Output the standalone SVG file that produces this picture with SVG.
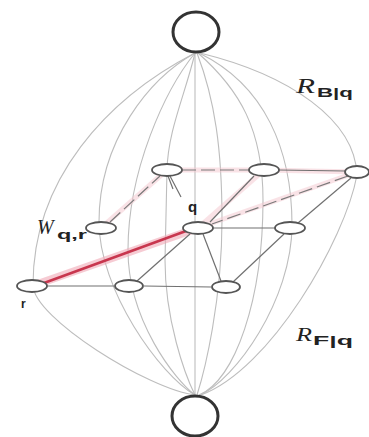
<svg xmlns="http://www.w3.org/2000/svg" width="369" height="437" viewBox="0 0 369 437">
<style>
.bg{fill:#ffffff}
.curve{fill:none;stroke:#bdbdbd;stroke-width:1.1}
.big{fill:#ffffff;stroke:#333333;stroke-width:3}
.node{fill:#ffffff;stroke:#555555;stroke-width:1.8}
.edge{fill:none;stroke:#707070;stroke-width:1.2}
.dash{fill:none;stroke:#7a7a7a;stroke-width:1.2;stroke-dasharray:14 5}
.glow{fill:none;stroke:#f3c6ce;stroke-width:5;stroke-linecap:round;opacity:0.5}
.wglow{fill:none;stroke:#f0a8b6;stroke-width:8;stroke-linecap:round;opacity:0.6}
.w{fill:none;stroke:#c8364e;stroke-width:2.6;stroke-linecap:round}
.ser{font-family:"Liberation Serif",serif;font-style:italic;fill:#222}
.sub{font-family:"Liberation Sans",sans-serif;font-weight:bold;fill:#222}
</style>
<rect class="bg" x="0" y="0" width="369" height="437"/>
<g id="connectors">
  <path class="curve" d="M195,53 C106,99 33,180 33,285 C33,318 150,390 195,395"/>
  <path class="curve" d="M195,53 C150,78 99,140 99,222 C99,290 160,375 195,395"/>
  <path class="curve" d="M195,53 C165,90 128,170 128,250 C128,320 175,380 195,395"/>
  <path class="curve" d="M195,53 C185,95 168,130 167,170 L165,260 C165,320 185,375 195,395"/>
  <path class="curve" d="M195,53 L195,395"/>
  <path class="curve" d="M197,53 C215,100 222,150 222,220 C222,300 205,370 197,395"/>
  <path class="curve" d="M198,53 C240,90 263,130 263,200 C263,300 235,380 199,395"/>
  <path class="curve" d="M199,53 C265,85 292,150 292,225 C292,300 235,380 200,395"/>
  <path class="curve" d="M200,53 C290,75 355,120 357,175 C345,240 270,370 201,395"/>
  <path class="glow" d="M167,170 L264,170 L357,172 M357,172 L198,228 M264,170 L198,228 M167,170 L101,228"/>
  <path class="wglow" d="M32,286 L198,228"/>
  <path class="dash" d="M182,170 L249,170"/>
  <path class="edge" d="M279,170 L345,171"/>
  <path class="dash" d="M110,222 L160,176"/>
  <path class="edge" d="M168,176 L173,189 M170,176 L181,197"/>
  <path class="edge" d="M254,176 L210,222"/>
  <path class="dash" d="M348,176 L212,224"/>
  <path class="edge" d="M351,178 L298,223"/>
  <path class="edge" d="M213,228 L275,228"/>
  <path class="w" d="M44,283 L186,231"/>
  <path class="edge" d="M47,286 L114,286"/>
  <path class="edge" d="M144,286 L211,287"/>
  <path class="edge" d="M190,234 L137,281"/>
  <path class="edge" d="M203,234 L221,281"/>
  <path class="edge" d="M284,234 L233,282"/>
</g>
<g id="node-top"><ellipse class="big" cx="196" cy="32" rx="23" ry="20"/></g>
<g id="node-bottom"><ellipse class="big" cx="195" cy="416" rx="23" ry="20"/></g>
<g id="node-a"><ellipse class="node" cx="167" cy="170" rx="15" ry="6"/></g>
<g id="node-b"><ellipse class="node" cx="264" cy="170" rx="15" ry="6"/></g>
<g id="node-c"><ellipse class="node" cx="357" cy="172" rx="12" ry="6"/></g>
<g id="node-d"><ellipse class="node" cx="101" cy="228" rx="15" ry="6"/></g>
<g id="node-q"><ellipse class="node" cx="198" cy="228" rx="15" ry="6"/><text class="sub" x="188" y="212" font-size="15">q</text></g>
<g id="node-e"><ellipse class="node" cx="290" cy="228" rx="15" ry="6"/></g>
<g id="node-r"><ellipse class="node" cx="32" cy="286" rx="15" ry="6"/><text class="sub" x="21" y="308" font-size="12">r</text></g>
<g id="node-f"><ellipse class="node" cx="129" cy="286" rx="14" ry="6"/></g>
<g id="node-g"><ellipse class="node" cx="226" cy="287" rx="14" ry="6"/></g>
<g id="labels">
  <text class="ser" x="296" y="93" font-size="22" textLength="19" lengthAdjust="spacingAndGlyphs">R</text>
  <text class="sub" x="317" y="97" font-size="12" textLength="36" lengthAdjust="spacingAndGlyphs">B|q</text>
  <text class="ser" x="296" y="341" font-size="18" textLength="16" lengthAdjust="spacingAndGlyphs">R</text>
  <text class="sub" x="313" y="345" font-size="12" textLength="40" lengthAdjust="spacingAndGlyphs">F|q</text>
  <text class="ser" x="37" y="234" font-size="20">W</text>
  <text class="sub" x="57" y="239" font-size="12" textLength="30" lengthAdjust="spacingAndGlyphs">q,r</text>
</g>
</svg>
